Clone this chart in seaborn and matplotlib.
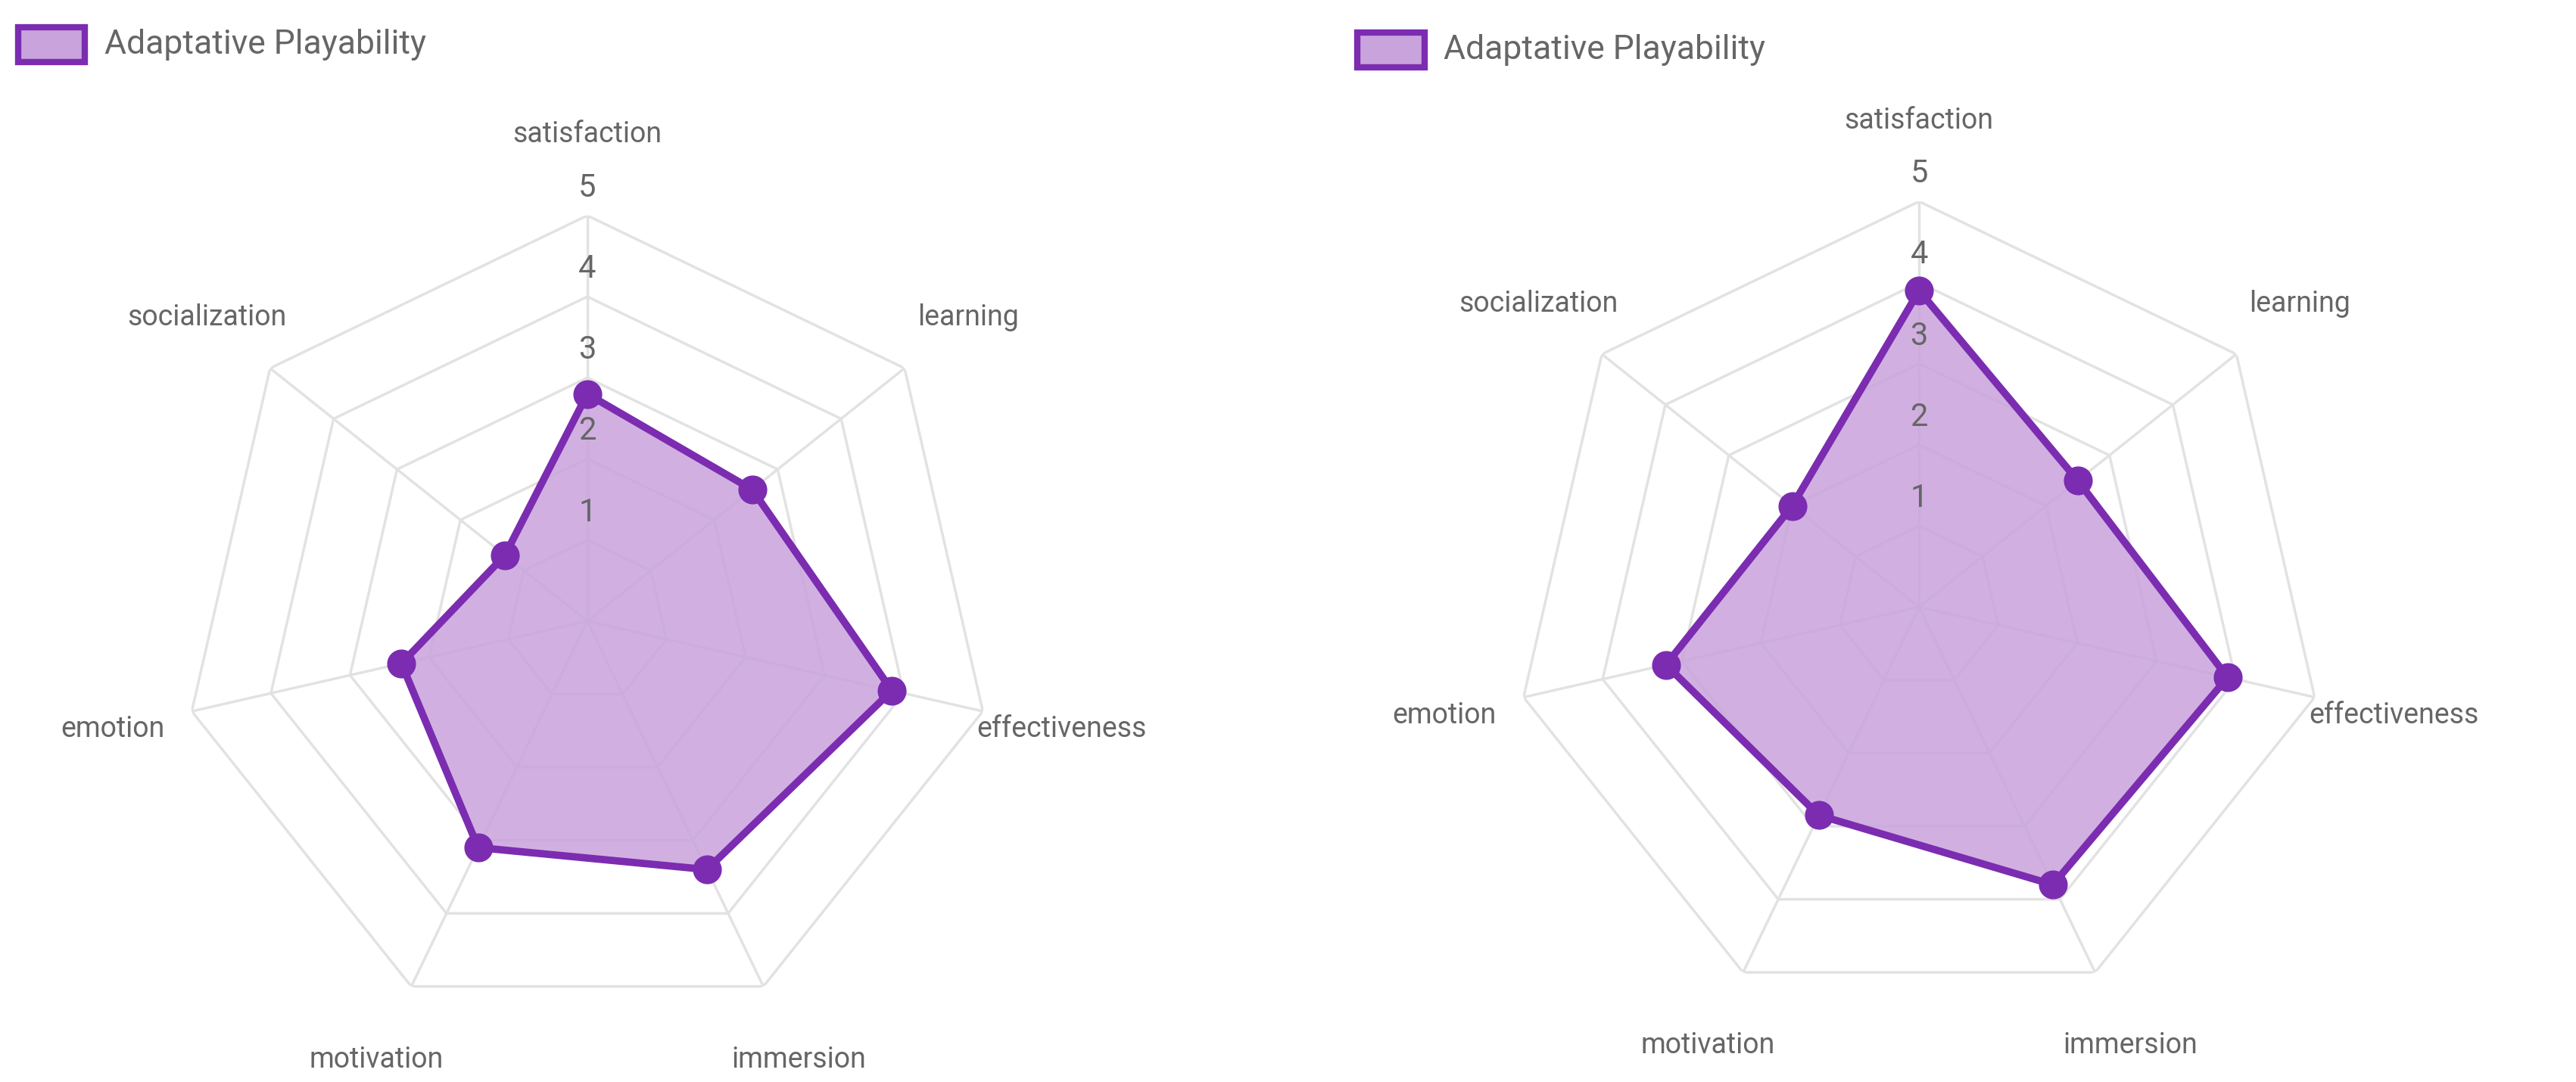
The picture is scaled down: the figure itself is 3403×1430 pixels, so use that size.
import numpy as np
import matplotlib
matplotlib.use("Agg")
import matplotlib.pyplot as plt
import seaborn as sns
from matplotlib.patches import Rectangle

sns.set_theme(style="white")
plt.rcParams['font.family'] = ['Roboto', 'DejaVu Sans']

categories = ["satisfaction", "learning", "effectiveness", "immersion", "motivation", "emotion", "socialization"]
left_values = [2.8, 2.6, 3.85, 3.4, 3.1, 2.35, 1.3]
right_values = [3.9, 2.5, 3.9, 3.8, 2.85, 3.2, 2.0]
tick_labels = ["1", "2", "3", "4", "5"]
series_name = "Adaptative Playability"

LINE = "#7B2CB0"
FILL = "#C9A3DC"
GRID = "#E2E2E2"
TXT = "#666666"

fig = plt.figure(figsize=(34.03, 14.3), dpi=100)
n = len(categories)
theta = np.linspace(0, 2 * np.pi, n, endpoint=False)

def radar(rect, values, legend_xy):
    ax = fig.add_axes(rect, projection="polar")
    ax.set_theta_offset(np.pi / 2)
    ax.set_theta_direction(-1)
    ax.set_ylim(0, 5)
    ax.grid(False)
    ax.spines["polar"].set_visible(False)
    ax.set_xticks([]); ax.set_yticks([])
    ax.set_facecolor("none")
    tc = np.append(theta, theta[0])
    for r in range(1, 6):
        ax.plot(tc, [r] * (n + 1), color=GRID, lw=2.5, zorder=1)
    for t in theta:
        ax.plot([t, t], [0, 5], color=GRID, lw=2.5, zorder=1)
    v = np.append(values, values[0])
    ax.fill(tc, v, color=FILL, alpha=0.85, zorder=2)
    ax.plot(tc, v, color=LINE, lw=7, zorder=3)
    ax.scatter(theta, values, s=700, color=LINE, zorder=4)
    for i, lab in enumerate(tick_labels):
        ax.text(0, i + 1 + 0.15, lab, ha="center", va="bottom", fontsize=30, color=TXT, zorder=5)
    for t, c in zip(theta, categories):
        ax.text(t, 6.0, c, ha="center", va="center", fontsize=27, color=TXT)
    lx, ly = legend_xy
    fig.patches.append(Rectangle((lx, ly), 0.026, 0.032, transform=fig.transFigure,
                                 facecolor=FILL, edgecolor=LINE, lw=6, figure=fig))
    fig.text(lx + 0.0335, ly + 0.016, series_name, fontsize=32, color=TXT, va="center")

w = 0.315; h = w * 3403 / 1430
radar([0.228 - w / 2, 0.426 - h / 2, w, h], left_values, (0.007, 0.943))
radar([0.745 - w / 2, 0.439 - h / 2, w, h], right_values, (0.527, 0.938))

fig.savefig("out.png", dpi=100, facecolor="white")
